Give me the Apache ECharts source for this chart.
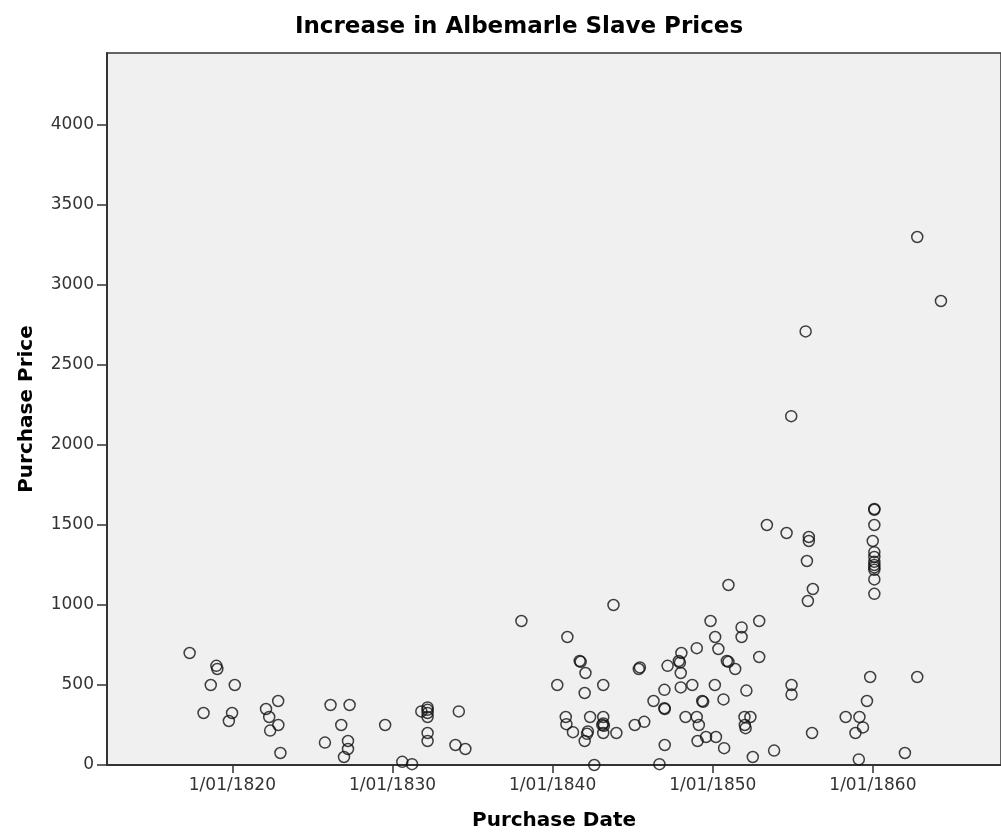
<!DOCTYPE html>
<html>
<head>
<meta charset="utf-8">
<script src="https://cdn.jsdelivr.net/npm/echarts@6/dist/echarts.min.js"></script>
<style>
  html, body { margin: 0; padding: 0; background: #fff; }
  #chart { width: 1001px; height: 840px; }
</style>
</head>
<body>
<div id="chart"></div>
<script>
// purchase date as fractional year
var years = [
    1817.33, 1819.0, 1819.06, 1818.65, 1820.15, 1818.2, 1819.98, 1819.78, 1822.1, 1822.86,
    1822.3, 1822.87, 1822.36, 1823.0, 1826.13, 1827.32, 1826.8, 1825.78, 1827.22, 1827.22,
    1826.97, 1829.54, 1830.61, 1831.22, 1831.8, 1832.19, 1832.19, 1832.19, 1832.19, 1832.19,
    1832.19, 1834.14, 1833.93, 1834.55, 1838.05, 1843.8, 1840.92, 1841.69, 1841.75, 1842.05,
    1840.29, 1843.16, 1842.0, 1840.82, 1840.86, 1841.27, 1842.0, 1842.2, 1842.15, 1842.34,
    1843.16, 1843.16, 1843.1, 1843.2, 1843.16, 1843.98, 1842.6, 1845.13, 1845.72, 1845.38,
    1845.45, 1846.3, 1846.98, 1846.98, 1847.0, 1847.0, 1846.67, 1847.18, 1847.88, 1848.04,
    1847.95, 1848.0, 1848.0, 1848.72, 1849.0, 1848.3, 1849.0, 1849.13, 1849.34, 1849.4,
    1849.05, 1849.58, 1850.2, 1849.86, 1850.15, 1850.35, 1850.13, 1850.67, 1850.71, 1850.88,
    1850.98, 1851.4, 1851.8, 1851.8, 1852.9, 1852.9, 1852.1, 1851.98, 1852.35, 1852.0,
    1852.05, 1852.5, 1853.83, 1850.98, 1853.38, 1854.61, 1856.0, 1856.0, 1855.88, 1856.25,
    1855.94, 1854.92, 1854.92, 1856.2, 1854.9, 1855.8, 1862.77, 1864.25, 1860.09, 1860.09,
    1860.09, 1859.99, 1860.09, 1860.09, 1860.09, 1860.09, 1860.09, 1860.09, 1860.09, 1860.09,
    1859.83, 1862.77, 1859.63, 1858.3, 1859.16, 1859.38, 1858.91, 1859.12, 1862.0
];
var prices = [
    700, 620, 600, 500, 500, 325, 325, 275, 350, 400,
    300, 250, 215, 75, 375, 375, 250, 140, 150, 100,
    50, 250, 20, 5, 335, 360, 345, 325, 300, 200,
    150, 335, 125, 100, 900, 1000, 800, 650, 645, 575,
    500, 500, 450, 300, 255, 205, 150, 210, 195, 300,
    300, 260, 250, 245, 200, 200, 0, 250, 270, 600,
    610, 400, 470, 355, 350, 125, 5, 620, 650, 700,
    640, 575, 485, 500, 730, 300, 300, 250, 400, 395,
    150, 175, 175, 900, 800, 725, 500, 410, 105, 650,
    645, 600, 860, 800, 900, 675, 465, 300, 300, 250,
    230, 50, 90, 1125, 1500, 1450, 1425, 1400, 1275, 1100,
    1025, 500, 440, 200, 2180, 2710, 3300, 2900, 1600, 1595,
    1500, 1400, 1330, 1300, 1270, 1250, 1235, 1220, 1160, 1070,
    550, 550, 400, 300, 300, 235, 200, 35, 75
];
var dateTicks = [1820, 1830, 1840, 1850, 1860];
var priceTicks = [0, 500, 1000, 1500, 2000, 2500, 3000, 3500, 4000];

var points = [];
for (var i = 0; i < years.length; i++) {
    points.push([years[i], prices[i]]);
}

var myChart = echarts.init(document.getElementById('chart'));
var option = {
    animation: false,
    title: {
        text: 'Increase in Albemarle Slave Prices',
        left: 514,
        top: 11,
        textAlign: 'center',
        textStyle: {
            fontFamily: 'DejaVu Sans',
            fontWeight: 'bold',
            fontSize: 23,
            color: '#000'
        }
    },
    grid: {
        left: 107,
        top: 53,
        width: 907,
        height: 712,
        show: true,
        backgroundColor: '#f0f0f0',
        borderColor: '#333',
        borderWidth: 1.5
    },
    xAxis: {
        type: 'value',
        min: 1812.17,
        max: 1868,
        name: 'Purchase Date',
        nameLocation: 'middle',
        nameGap: 46,
        nameTextStyle: {
            fontFamily: 'DejaVu Sans',
            fontWeight: 'bold',
            fontSize: 20,
            color: '#000'
        },
        axisLine: { lineStyle: { color: '#333', width: 2 } },
        axisTick: {
            length: 8,
            lineStyle: { color: '#333', width: 1.5 },
            customValues: dateTicks
        },
        axisLabel: {
            margin: 12,
            fontFamily: 'DejaVu Sans',
            fontSize: 17,
            color: '#333',
            customValues: dateTicks,
            formatter: function (v) {
                return '1/01/' + v;
            }
        },
        splitLine: { show: false }
    },
    yAxis: {
        type: 'value',
        min: 0,
        max: 4450,
        name: 'Purchase Price',
        nameLocation: 'middle',
        nameGap: 70,
        nameTextStyle: {
            fontFamily: 'DejaVu Sans',
            fontWeight: 'bold',
            fontSize: 20,
            color: '#000'
        },
        axisLine: { show: true, lineStyle: { color: '#333', width: 2 } },
        axisTick: {
            show: true,
            length: 10,
            lineStyle: { color: '#333', width: 1.5 },
            customValues: priceTicks
        },
        axisLabel: {
            margin: 13,
            fontFamily: 'DejaVu Sans',
            fontSize: 17,
            color: '#333',
            customValues: priceTicks,
            formatter: function (v) {
                return String(v);
            }
        },
        splitLine: { show: false }
    },
    series: [
        {
            type: 'scatter',
            symbol: 'circle',
            symbolSize: 11,
            itemStyle: {
                color: 'rgba(0,0,0,0)',
                borderColor: '#111',
                borderWidth: 1.5
            },
            data: points
        }
    ]
};
myChart.setOption(option);
</script>
</body>
</html>
